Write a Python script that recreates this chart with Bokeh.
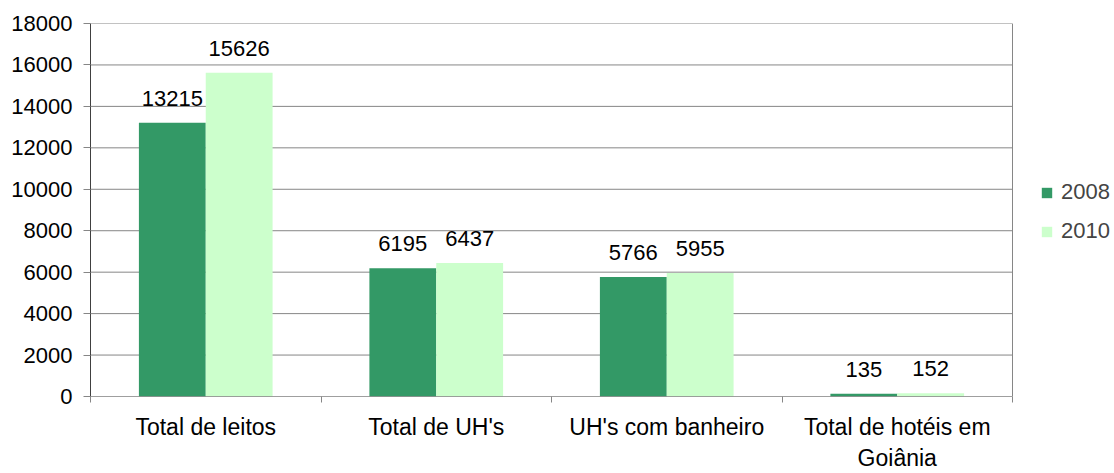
from bokeh.plotting import figure
from bokeh.models import ColumnDataSource, FixedTicker, Legend, LegendItem, LabelSet, Range1d
from bokeh.core.properties import value
from bokeh.embed import file_html
from bokeh.resources import INLINE

categories = ["Total de leitos", "Total de UH's", "UH's com banheiro", "Total de hotéis em\nGoiânia"]
series_names = ["2008", "2010"]
values_2008 = [13215, 6195, 5766, 135]
values_2010 = [15626, 6437, 5955, 152]
y_ticks = [0, 2000, 4000, 6000, 8000, 10000, 12000, 14000, 16000, 18000]

colors = ["#339966", "#CCFFCC"]
FONT = "Liberation Sans"
FS = "22px"
GRID = "#868686"
AXIS = "#404040"

n = len(categories)
centers = [i + 0.5 for i in range(n)]
bw = 0.29

W, H = 1114, 473
LEFT, RIGHT, TOP, BOTTOM = 90, 4, 23, 75
plot_px = 922  # width of the category area in pixels
x_end = n * (W - LEFT - RIGHT) / plot_px

p = figure(width=W, height=H, output_backend="svg", toolbar_location=None,
           x_range=Range1d(0, x_end), y_range=Range1d(0, y_ticks[-1]),
           min_border_left=LEFT, min_border_right=RIGHT, min_border_top=TOP, min_border_bottom=BOTTOM)

# gridlines and borders restricted to the category area
p.segment(x0=[0] * (len(y_ticks) - 1), x1=[n] * (len(y_ticks) - 1), y0=y_ticks[1:], y1=y_ticks[1:],
          line_color=GRID, line_width=1)
p.segment(x0=[n], x1=[n], y0=[0], y1=[y_ticks[-1]], line_color=GRID, line_width=1)

src08 = ColumnDataSource(dict(x=[c - bw / 2 for c in centers], top=values_2008,
                              lab=[str(v) for v in values_2008]))
src10 = ColumnDataSource(dict(x=[c + bw / 2 for c in centers], top=values_2010,
                              lab=[str(v) for v in values_2010]))

r08 = p.vbar(x="x", top="top", width=bw, source=src08, fill_color=colors[0], line_color=None)
r10 = p.vbar(x="x", top="top", width=bw, source=src10, fill_color=colors[1], line_color=None)

p.segment(x0=[0], x1=[n], y0=[0], y1=[0], line_color=AXIS, line_width=1)

for s in (src08, src10):
    p.add_layout(LabelSet(x="x", y="top", text="lab", source=s, text_align="center",
                          text_baseline="alphabetic", y_offset=17, text_font=value(FONT),
                          text_font_size=FS, text_color="black"))

# axes
p.xaxis.ticker = FixedTicker(ticks=centers, minor_ticks=list(range(n + 1)))
p.xaxis.major_label_overrides = {c: cat for c, cat in zip(centers, categories)}
p.xaxis.major_tick_line_color = None
p.xaxis.minor_tick_line_color = GRID
p.xaxis.minor_tick_out = 6
p.xaxis.minor_tick_in = 0
p.xaxis.axis_line_color = None
p.xaxis.major_label_text_font = FONT
p.xaxis.major_label_text_font_size = "23px"
p.xaxis.major_label_text_color = "black"
p.xaxis.major_label_standoff = 11

p.yaxis.ticker = FixedTicker(ticks=y_ticks)
p.yaxis.minor_tick_line_color = None
p.yaxis.major_tick_out = 7
p.yaxis.major_tick_in = 0
p.yaxis.major_tick_line_color = GRID
p.yaxis.axis_line_color = AXIS
p.yaxis.major_label_text_font = FONT
p.yaxis.major_label_text_font_size = FS
p.yaxis.major_label_text_color = "black"
p.yaxis.major_label_standoff = 11

p.xgrid.grid_line_color = None
p.ygrid.grid_line_color = None
p.outline_line_color = None

legend = Legend(items=[LegendItem(label=series_names[0], renderers=[r08]),
                       LegendItem(label=series_names[1], renderers=[r10])],
                location=(950, 152), border_line_color=None, background_fill_alpha=0,
                label_text_font=FONT, label_text_font_size=FS,
                glyph_width=13, glyph_height=13, spacing=13, label_standoff=8,
                padding=0, margin=0)
p.add_layout(legend, "center")

open("out.html", "w").write(file_html(p, INLINE))
